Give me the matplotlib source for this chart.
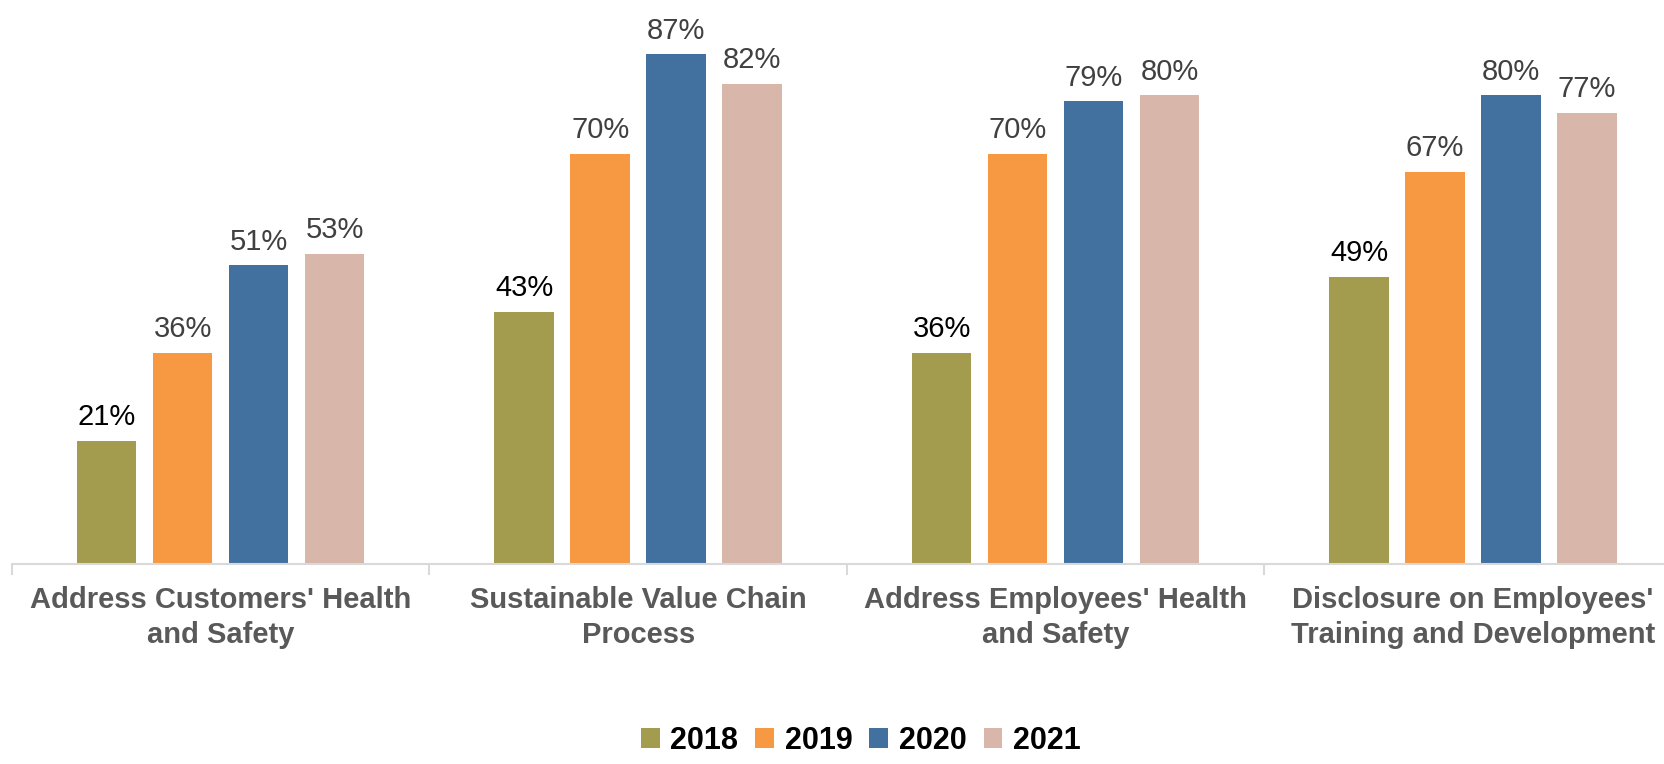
import matplotlib
matplotlib.use("Agg")
import matplotlib.pyplot as plt
import numpy as np

plt.rcParams['font.family'] = ['Liberation Sans', 'DejaVu Sans']

categories = ["Address Customers' Health\nand Safety",
              "Sustainable Value Chain\nProcess",
              "Address Employees' Health\nand Safety",
              "Disclosure on Employees'\nTraining and Development"]
years = ["2018", "2019", "2020", "2021"]
v2018 = [21, 43, 36, 49]
v2019 = [36, 70, 70, 67]
v2020 = [51, 87, 79, 80]
v2021 = [53, 82, 80, 77]
series = [v2018, v2019, v2020, v2021]
colors = ["#A39B4E", "#F79843", "#4271A0", "#D8B6A9"]
label_colors = ["#000000", "#404040", "#404040", "#404040"]

W, H = 1665, 764
fig = plt.figure(figsize=(W / 100, H / 100), dpi=100)
ax = fig.add_axes([12 / W, 1 - 564 / H, 1 - 12 / W, 564 / H])

x = np.arange(len(categories))
bw = 0.1425
step = 0.182
for i, (vals, c, lc, yr) in enumerate(zip(series, colors, label_colors, years)):
    pos = x + (i - 1.5) * step
    ax.bar(pos, vals, width=bw, color=c, label=yr, zorder=2)
    for xp, v in zip(pos, vals):
        ax.annotate(f"{v}%", (xp, v), xytext=(0, 7), textcoords="offset points",
                    ha="center", va="bottom", fontsize=21, color=lc)

ax.set_xlim(-0.5, 3.46)
ax.set_ylim(0, 96.3)
for s in ["left", "right", "top"]:
    ax.spines[s].set_visible(False)
ax.spines["bottom"].set_color("#d9d9d9")
ax.spines["bottom"].set_linewidth(1.5)
ax.set_yticks([])
ax.set_xticks([-0.5, 0.5, 1.5, 2.5])
ax.set_xticklabels([])
ax.tick_params(axis="x", which="major", length=8, width=1.5, color="#d9d9d9", direction="out")
ax.set_xticks(x, minor=True)
ax.set_xticklabels(categories, minor=True, fontsize=21, fontweight="bold", color="#595959",
                   linespacing=1.3)
ax.tick_params(axis="x", which="minor", length=0, pad=16)

fig.legend(loc="lower center", bbox_to_anchor=(0.517, -0.025), ncol=4, frameon=False,
           prop={"size": 22, "weight": "bold"}, handlelength=0.62, handleheight=0.62,
           handletextpad=0.35, columnspacing=0.55)

fig.savefig("out.png", dpi=100)
